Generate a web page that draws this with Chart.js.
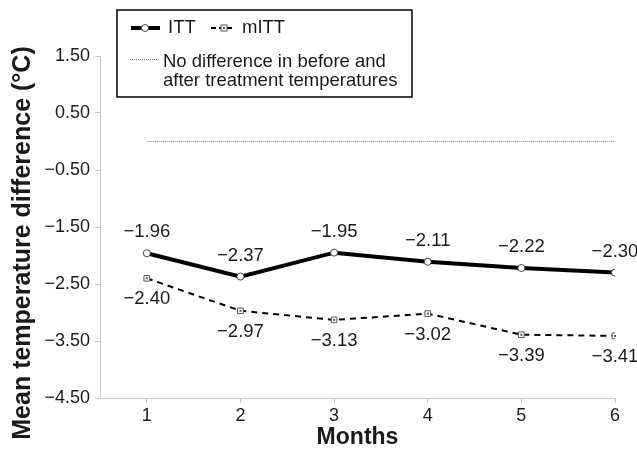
<!DOCTYPE html>
<html>
<head>
<meta charset="utf-8">
<script src="https://cdn.jsdelivr.net/npm/chart.js@4/dist/chart.umd.min.js"></script>
<style>
  html, body { margin: 0; padding: 0; background: #fff; }
  #wrap { width: 637px; height: 451px; }
</style>
</head>
<body>
<div id="wrap"><canvas id="myChart" width="637" height="451"></canvas></div>
<script>
let months = [1, 2, 3, 4, 5, 6];
let ittValues = [-1.96, -2.37, -1.95, -2.11, -2.22, -2.30];
let mittValues = [-2.40, -2.97, -3.13, -3.02, -3.39, -3.41];
let noDiffValues = [0, 0, 0, 0, 0, 0];
let yTicks = [1.5, 0.5, -0.5, -1.5, -2.5, -3.5, -4.5];
let yTitle = "Mean temperature difference (\u00b0C)";

const font = "'Liberation Sans', Arial, sans-serif";
const textColor = "#1a1a1a";

function fmt(v) {
  let s = Math.abs(v).toFixed(2);
  return v < 0 ? "\u2212" + s : s;
}

function toPoints(values) {
  return months.map((m, i) => ({ x: m, y: values[i] }));
}

// value labels: ITT above the points, mITT below
const valueLabels = {
  id: "valueLabels",
  afterDatasetsDraw(chart) {
    let ctx = chart.ctx;
    ctx.save();
    // little dot in the middle of each mITT square
    ctx.fillStyle = "#555";
    chart.getDatasetMeta(1).data.forEach((pt) => {
      ctx.fillRect(pt.x - 1, pt.y - 1, 2, 2);
    });
    ctx.font = "18.5px " + font;
    ctx.fillStyle = textColor;
    ctx.textAlign = "center";
    ctx.textBaseline = "middle";
    chart.getDatasetMeta(0).data.forEach((pt, i) => {
      ctx.fillText(fmt(ittValues[i]), pt.x, pt.y - 21);
    });
    chart.getDatasetMeta(1).data.forEach((pt, i) => {
      ctx.fillText(fmt(mittValues[i]), pt.x, pt.y + 21);
    });
    ctx.restore();
  },
};

// y title drawn by hand, it sits a bit lower than the plot centre
const yTitleText = {
  id: "yTitleText",
  afterDraw(chart) {
    let ctx = chart.ctx;
    ctx.save();
    ctx.translate(23, 243);
    ctx.rotate(-Math.PI / 2);
    ctx.font = "bold 25px " + font;
    ctx.fillStyle = textColor;
    ctx.textAlign = "center";
    ctx.textBaseline = "middle";
    ctx.fillText(yTitle, 0, 0);
    ctx.restore();
  },
};

// boxed legend in the top left corner
const boxLegend = {
  id: "boxLegend",
  afterDraw(chart) {
    let ctx = chart.ctx;
    ctx.save();
    ctx.strokeStyle = "#000";
    ctx.lineWidth = 1.5;
    ctx.strokeRect(117, 10, 295, 87);

    // ITT sample
    ctx.strokeStyle = "#000";
    ctx.lineWidth = 4;
    ctx.beginPath();
    ctx.moveTo(131, 28);
    ctx.lineTo(160, 28);
    ctx.stroke();
    ctx.fillStyle = "#fff";
    ctx.strokeStyle = "#444";
    ctx.lineWidth = 1;
    ctx.beginPath();
    ctx.arc(145, 28, 3.5, 0, Math.PI * 2);
    ctx.fill();
    ctx.stroke();

    // mITT sample
    ctx.strokeStyle = "#000";
    ctx.lineWidth = 2;
    ctx.setLineDash([5, 3]);
    ctx.beginPath();
    ctx.moveTo(211, 28);
    ctx.lineTo(232, 28);
    ctx.stroke();
    ctx.setLineDash([]);
    ctx.fillStyle = "#fff";
    ctx.strokeStyle = "#555";
    ctx.lineWidth = 1;
    ctx.fillRect(221, 25, 6, 6);
    ctx.strokeRect(221, 25, 6, 6);
    ctx.fillStyle = "#555";
    ctx.fillRect(223, 27, 2, 2);

    // no difference sample
    ctx.strokeStyle = "#777";
    ctx.lineWidth = 1;
    ctx.setLineDash([1, 1]);
    ctx.beginPath();
    ctx.moveTo(130, 59.5);
    ctx.lineTo(157, 59.5);
    ctx.stroke();
    ctx.setLineDash([]);

    ctx.fillStyle = textColor;
    ctx.font = "18.5px " + font;
    ctx.textBaseline = "middle";
    ctx.textAlign = "left";
    ctx.fillText("ITT", 168, 28);
    ctx.fillText("mITT", 242, 28);
    ctx.fillText("No difference in before and", 163, 62);
    ctx.fillText("after treatment temperatures", 163, 81);
    ctx.restore();
  },
};

const ctx = document.getElementById("myChart");

new Chart(ctx, {
  type: "line",
  data: {
    datasets: [
      {
        label: "ITT",
        data: toPoints(ittValues),
        borderColor: "#000",
        borderWidth: 4,
        pointStyle: "circle",
        pointRadius: 3.5,
        pointBackgroundColor: "#fff",
        pointBorderColor: "#444",
        pointBorderWidth: 1,
      },
      {
        label: "mITT",
        data: toPoints(mittValues),
        borderColor: "#000",
        borderWidth: 2,
        borderDash: [6, 5],
        pointStyle: "rect",
        pointRadius: 4,
        pointBackgroundColor: "#fff",
        pointBorderColor: "#555",
        pointBorderWidth: 1,
      },
      {
        label: "No difference in before and after treatment temperatures",
        data: toPoints(noDiffValues),
        borderColor: "#888",
        borderWidth: 1,
        borderDash: [1, 1],
        pointRadius: 0,
      },
    ],
  },
  plugins: [valueLabels, yTitleText, boxLegend],
  options: {
    responsive: false,
    animation: false,
    layout: {
      padding: { top: 56, right: 22, left: 0, bottom: 0 },
    },
    plugins: {
      legend: { display: false },
      tooltip: { enabled: false },
    },
    scales: {
      x: {
        type: "linear",
        min: 0.5,
        max: 6,
        afterBuildTicks(scale) {
          scale.ticks = months.map((m) => ({ value: m }));
        },
        afterFit(scale) {
          scale.height = 53;
        },
        border: { color: "#c8c8c8", width: 1 },
        grid: {
          drawOnChartArea: false,
          color: "#c8c8c8",
          tickLength: 5,
        },
        ticks: {
          color: textColor,
          font: { family: font, size: 18 },
          padding: 2,
          callback: (v) => String(v),
        },
        title: {
          display: true,
          text: "Months",
          color: textColor,
          font: { family: font, size: 23, weight: "bold" },
          padding: { top: 0, bottom: 0 },
        },
      },
      y: {
        min: -4.5,
        max: 1.5,
        afterBuildTicks(scale) {
          scale.ticks = yTicks.map((v) => ({ value: v }));
        },
        afterFit(scale) {
          scale.width = 100;
        },
        border: { color: "#c8c8c8", width: 1 },
        grid: {
          drawOnChartArea: false,
          color: "#c8c8c8",
          tickLength: 5,
        },
        ticks: {
          color: textColor,
          font: { family: font, size: 18 },
          padding: 5,
          callback: (v) => fmt(v),
        },
      },
    },
  },
});
</script>
</body>
</html>
